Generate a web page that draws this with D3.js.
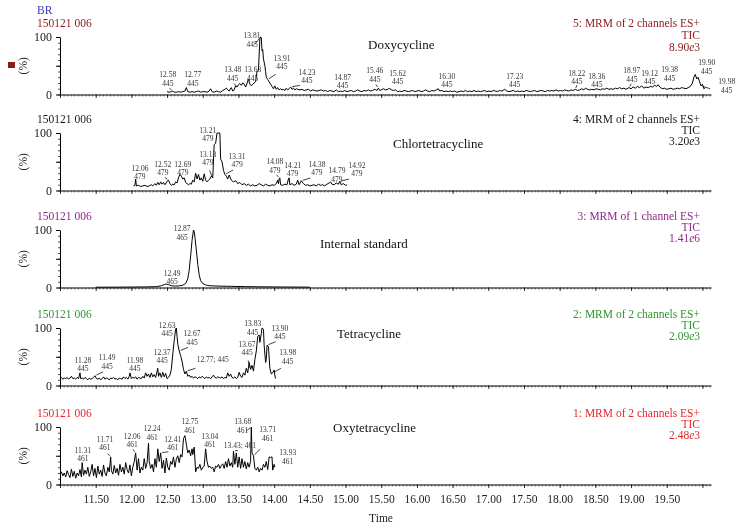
<!DOCTYPE html>
<html><head><meta charset="utf-8">
<script src="https://cdn.jsdelivr.net/npm/d3@7"></script>
<style>
body{margin:0;background:#fff}
svg{display:block;will-change:transform;opacity:0.999}
text{font-family:"Liberation Serif","DejaVu Serif",serif}
</style>
</head><body>
<svg id="c" width="745" height="530"></svg>
<script>
// ---------- DATA ----------
const timeDomain = [11.0, 20.12];
const tickLabels = [11.5,12,12.5,13,13.5,14,14.5,15,15.5,16,16.5,17,17.5,18,18.5,19,19.5];
const compounds = ["Doxycycline","Chlortetracycline","Internal standard","Tetracycline","Oxytetracycline"];
const sampleIds = ["150121 006","150121 006","150121 006","150121 006","150121 006"];
const channelTitles = ["5: MRM of 2 channels ES+","4: MRM of 2 channels ES+","3: MRM of 1 channel ES+","2: MRM of 2 channels ES+","1: MRM of 2 channels ES+"];
const ticMantissa = ["8.90","3.20","1.41","2.09","2.48"];
const ticExponent = ["3","3","6","3","3"];

// [time (min), intensity (%)]
const doxycycline = [[12.50,5],[12.53,4],[12.56,5],[12.58,6],[12.60,4],[12.63,4],[12.66,5],[12.69,4],[12.72,5],[12.75,6],[12.77,12],[12.79,5],[12.82,4],[12.85,5],[12.88,4],[12.91,5],[12.94,6],[12.97,4],[13.00,5],[13.03,5],[13.06,4],[13.09,6],[13.11,10],[13.13,5],[13.16,4],[13.19,6],[13.22,5],[13.25,4],[13.28,7],[13.31,9],[13.33,11],[13.35,8],[13.37,6],[13.40,12],[13.42,6],[13.44,8],[13.46,15],[13.48,13],[13.50,17],[13.52,19],[13.54,16],[13.56,20],[13.58,18],[13.60,13],[13.62,19],[13.64,27],[13.66,18],[13.68,15],[13.70,18],[13.72,20],[13.74,22],[13.76,40],[13.78,42],[13.80,96],[13.81,100],[13.82,99],[13.83,76],[13.84,78],[13.85,62],[13.87,50],[13.88,40],[13.89,30],[13.91,26],[13.93,22],[13.95,18],[13.97,14],[13.99,10],[14.01,15],[14.03,9],[14.05,12],[14.07,8],[14.09,10],[14.11,8],[14.13,9],[14.15,7],[14.17,11],[14.19,8],[14.21,10],[14.23,13],[14.25,9],[14.27,11],[14.29,8],[14.31,10],[14.33,9],[14.36,8],[14.39,9],[14.42,7],[14.45,8],[14.48,9],[14.51,6],[14.54,8],[14.57,7],[14.60,6],[14.63,7],[14.66,8],[14.69,6],[14.72,7],[14.75,5],[14.78,7],[14.81,6],[14.84,5],[14.87,8],[14.90,5],[14.93,6],[14.96,5],[14.99,7],[15.02,5],[15.05,6],[15.08,7],[15.11,5],[15.14,6],[15.17,8],[15.20,6],[15.23,5],[15.26,7],[15.29,6],[15.32,8],[15.35,6],[15.38,7],[15.41,9],[15.44,7],[15.46,11],[15.48,7],[15.50,8],[15.53,10],[15.56,8],[15.59,9],[15.62,11],[15.64,8],[15.67,7],[15.70,8],[15.73,5],[15.76,6],[15.79,5],[15.82,7],[15.85,6],[15.88,5],[15.91,6],[15.94,7],[15.97,5],[16.00,6],[16.03,7],[16.06,5],[16.09,6],[16.12,8],[16.15,6],[16.18,5],[16.21,7],[16.24,6],[16.27,8],[16.30,10],[16.32,6],[16.35,7],[16.38,5],[16.41,6],[16.44,5],[16.47,6],[16.50,5],[16.53,6],[16.56,4],[16.59,5],[16.62,6],[16.65,5],[16.68,7],[16.71,5],[16.74,6],[16.77,5],[16.80,7],[16.83,5],[16.86,6],[16.89,5],[16.92,6],[16.95,7],[16.98,5],[17.01,6],[17.04,5],[17.07,7],[17.10,6],[17.13,5],[17.16,7],[17.19,6],[17.23,9],[17.26,6],[17.29,5],[17.32,6],[17.35,7],[17.38,5],[17.41,6],[17.44,5],[17.47,6],[17.50,5],[17.53,7],[17.56,6],[17.59,5],[17.62,6],[17.65,7],[17.68,5],[17.71,6],[17.74,7],[17.77,6],[17.80,5],[17.83,7],[17.86,6],[17.89,7],[17.92,6],[17.95,8],[17.98,6],[18.01,7],[18.04,6],[18.07,8],[18.10,7],[18.13,6],[18.16,8],[18.19,7],[18.22,9],[18.25,7],[18.28,8],[18.31,10],[18.34,8],[18.36,11],[18.39,9],[18.42,8],[18.45,9],[18.48,8],[18.51,10],[18.54,9],[18.57,8],[18.60,10],[18.63,9],[18.66,11],[18.69,9],[18.72,10],[18.75,9],[18.78,11],[18.81,10],[18.84,12],[18.87,10],[18.90,11],[18.93,9],[18.97,12],[19.00,10],[19.03,13],[19.06,11],[19.09,14],[19.12,12],[19.15,15],[19.18,11],[19.21,13],[19.24,12],[19.27,14],[19.30,13],[19.33,16],[19.36,14],[19.38,17],[19.41,12],[19.44,10],[19.47,11],[19.50,9],[19.53,10],[19.56,11],[19.59,9],[19.62,10],[19.65,11],[19.68,10],[19.71,12],[19.74,11],[19.77,10],[19.80,12],[19.83,14],[19.86,20],[19.88,30],[19.90,35],[19.92,27],[19.94,30],[19.96,22],[19.98,15],[20.00,18],[20.02,10],[20.04,12]];

const chlortetracycline = [[12.03,8],[12.05,9],[12.06,20],[12.07,8],[12.10,9],[12.13,7],[12.16,8],[12.19,9],[12.22,7],[12.25,8],[12.28,10],[12.30,8],[12.33,12],[12.35,9],[12.37,14],[12.39,10],[12.41,15],[12.43,11],[12.45,14],[12.47,10],[12.50,16],[12.52,18],[12.54,12],[12.56,9],[12.58,11],[12.60,10],[12.62,15],[12.64,13],[12.66,22],[12.68,28],[12.70,25],[12.72,20],[12.74,22],[12.76,14],[12.78,12],[12.80,10],[12.82,12],[12.84,11],[12.86,18],[12.88,15],[12.90,30],[12.92,20],[12.94,28],[12.96,18],[12.98,22],[13.00,16],[13.02,29],[13.04,18],[13.06,15],[13.08,18],[13.10,20],[13.12,25],[13.14,22],[13.16,80],[13.18,82],[13.20,100],[13.22,100],[13.24,100],[13.25,55],[13.27,50],[13.29,35],[13.31,28],[13.33,25],[13.35,20],[13.37,27],[13.40,18],[13.43,15],[13.46,17],[13.49,12],[13.52,14],[13.55,10],[13.58,12],[13.61,9],[13.64,11],[13.67,8],[13.70,10],[13.73,8],[13.76,9],[13.79,12],[13.82,10],[13.85,8],[13.88,11],[13.91,9],[13.94,8],[13.97,10],[14.00,9],[14.03,12],[14.05,18],[14.06,12],[14.07,20],[14.08,22],[14.09,10],[14.12,9],[14.15,11],[14.18,10],[14.20,20],[14.21,22],[14.22,10],[14.25,12],[14.28,9],[14.31,11],[14.33,18],[14.35,10],[14.38,17],[14.41,12],[14.44,9],[14.47,10],[14.50,8],[14.53,9],[14.56,10],[14.59,8],[14.62,11],[14.65,9],[14.68,10],[14.71,8],[14.74,11],[14.77,13],[14.79,15],[14.81,11],[14.84,10],[14.87,13],[14.90,11],[14.92,16],[14.94,10],[14.97,12],[15.00,9],[15.02,10]];

const internalStandard = [[11.50,0.5],[11.80,0.6],[12.00,0.8],[12.20,1],[12.35,1.5],[12.42,3],[12.46,5],[12.49,6],[12.52,5],[12.56,3],[12.62,2.5],[12.68,3],[12.72,4],[12.76,7],[12.79,15],[12.81,30],[12.83,55],[12.85,82],[12.87,100],[12.88,97],[12.89,88],[12.91,65],[12.93,40],[12.95,22],[12.97,12],[13.00,7],[13.05,4],[13.10,3],[13.20,2.5],[13.40,2],[13.60,1.5],[13.80,1.2],[14.00,1],[14.20,0.8],[14.50,0.6]];

const tetracycline = [[11.00,12],[11.02,14],[11.04,11],[11.06,13],[11.08,12],[11.10,14],[11.12,11],[11.14,13],[11.16,16],[11.18,12],[11.20,13],[11.22,11],[11.24,14],[11.26,12],[11.28,22],[11.29,12],[11.31,13],[11.33,11],[11.35,14],[11.37,12],[11.39,10],[11.41,13],[11.43,11],[11.45,12],[11.47,14],[11.49,17],[11.51,12],[11.53,11],[11.55,13],[11.57,10],[11.59,12],[11.61,15],[11.63,11],[11.65,13],[11.67,12],[11.69,10],[11.71,13],[11.73,12],[11.75,14],[11.77,11],[11.79,12],[11.81,10],[11.83,13],[11.85,12],[11.87,11],[11.89,15],[11.91,12],[11.93,14],[11.95,11],[11.97,16],[11.98,22],[12.00,12],[12.02,14],[12.04,13],[12.06,15],[12.08,11],[12.10,14],[12.12,13],[12.14,12],[12.16,16],[12.18,13],[12.20,22],[12.22,16],[12.24,20],[12.26,14],[12.28,22],[12.30,15],[12.32,19],[12.34,14],[12.37,30],[12.38,16],[12.40,22],[12.42,14],[12.44,23],[12.46,15],[12.48,21],[12.50,12],[12.52,14],[12.54,18],[12.56,28],[12.58,55],[12.60,78],[12.62,98],[12.63,100],[12.64,85],[12.65,72],[12.67,60],[12.69,52],[12.71,42],[12.73,28],[12.75,20],[12.77,25],[12.79,16],[12.81,18],[12.83,14],[12.85,16],[12.87,13],[12.89,15],[12.91,14],[12.93,12],[12.95,15],[12.97,13],[12.99,16],[13.01,14],[13.03,12],[13.05,15],[13.07,13],[13.09,14],[13.11,12],[13.13,15],[13.15,18],[13.17,14],[13.19,13],[13.21,15],[13.23,14],[13.25,13],[13.27,15],[13.29,12],[13.31,14],[13.33,13],[13.35,22],[13.37,16],[13.39,20],[13.41,14],[13.43,13],[13.45,15],[13.47,12],[13.49,14],[13.51,23],[13.53,16],[13.55,14],[13.57,22],[13.59,18],[13.61,30],[13.63,22],[13.65,40],[13.67,28],[13.69,35],[13.71,25],[13.73,45],[13.75,60],[13.77,85],[13.79,88],[13.80,75],[13.82,90],[13.83,100],[13.85,98],[13.86,70],[13.88,40],[13.89,45],[13.90,70],[13.92,68],[13.94,30],[13.96,20],[13.98,22],[14.00,27],[14.01,18],[14.02,12]];

const oxytetracycline = [[11.00,18],[11.02,22],[11.04,15],[11.06,20],[11.08,13],[11.10,24],[11.12,17],[11.14,12],[11.16,27],[11.18,14],[11.20,23],[11.22,11],[11.24,20],[11.26,15],[11.28,26],[11.30,13],[11.31,38],[11.33,16],[11.35,25],[11.37,18],[11.39,30],[11.41,14],[11.43,22],[11.45,35],[11.47,15],[11.49,28],[11.51,12],[11.53,32],[11.55,18],[11.57,25],[11.59,14],[11.61,34],[11.63,20],[11.65,15],[11.67,30],[11.69,22],[11.71,48],[11.72,24],[11.74,18],[11.76,33],[11.78,20],[11.80,28],[11.82,16],[11.84,35],[11.86,22],[11.88,30],[11.90,18],[11.92,38],[11.94,26],[11.96,20],[11.98,34],[12.00,15],[12.02,30],[12.04,40],[12.06,55],[12.08,25],[12.10,45],[12.12,20],[12.14,30],[12.16,25],[12.18,45],[12.20,28],[12.22,38],[12.24,72],[12.25,40],[12.27,28],[12.29,35],[12.31,22],[12.33,45],[12.35,30],[12.37,62],[12.39,40],[12.41,55],[12.43,28],[12.45,42],[12.47,20],[12.49,46],[12.51,30],[12.53,25],[12.55,40],[12.57,35],[12.59,48],[12.61,30],[12.63,44],[12.65,50],[12.67,38],[12.69,52],[12.71,48],[12.73,80],[12.75,85],[12.77,70],[12.79,55],[12.81,60],[12.83,50],[12.85,62],[12.86,52],[12.88,65],[12.90,22],[12.92,30],[12.94,28],[12.96,35],[12.98,25],[13.00,30],[13.02,32],[13.04,62],[13.06,40],[13.08,30],[13.10,32],[13.12,28],[13.14,30],[13.16,22],[13.18,32],[13.20,30],[13.22,35],[13.24,28],[13.26,33],[13.28,36],[13.30,28],[13.32,40],[13.34,30],[13.36,45],[13.38,32],[13.40,38],[13.42,30],[13.43,58],[13.45,35],[13.47,55],[13.49,30],[13.51,48],[13.53,28],[13.55,45],[13.57,30],[13.59,40],[13.61,27],[13.63,38],[13.65,30],[13.67,40],[13.68,100],[13.69,55],[13.71,50],[13.73,28],[13.75,25],[13.77,30],[13.79,22],[13.81,28],[13.83,25],[13.85,35],[13.87,30],[13.89,40],[13.91,26],[13.93,48],[13.95,47],[13.97,48],[13.98,25],[14.00,35],[14.01,30]];

// peak annotations: [line 1, line 2, anchor time, anchor %, leader?]
const doxyLabels = [["12.58","445",12.51,34,1],["12.77","445",12.86,34,0],["13.48","445",13.42,43,1],["13.63","445",13.70,43,0],["13.81","445",13.69,102,1],["13.91","445",14.11,63,1],["14.23","445",14.46,39,1],["14.87","445",14.96,30,0],["15.46","445",15.41,41,1],["15.62","445",15.73,37,0],["16.30","445",16.42,32,0],["17.23","445",17.37,32,0],["18.22","445",18.24,37,1],["18.36","445",18.52,32,0],["18.97","445",19.01,41,1],["19.12","445",19.26,37,0],["19.38","445",19.54,43,0],["19.90","445",20.06,55,0],["19.98","445",20.34,22,1]];
const chlorLabels = [["12.06","479",12.12,39,0],["12.52","479",12.44,46,1],["12.69","479",12.72,46,0],["13.13","479",13.07,63,1],["13.21","479",13.07,105,0],["13.31","479",13.48,60,1],["14.08","479",14.01,50,1],["14.21","479",14.26,44,0],["14.38","479",14.60,46,1],["14.79","479",14.88,34,0],["14.92","479",15.16,44,1]];
const isLabels = [["12.87","465",12.71,102,0],["12.49","465",12.57,25,0]];
const tetraLabels = [["11.28","445",11.32,44,0],["11.49","445",11.66,48,1],["11.98","445",12.05,44,0],["12.37","445",12.43,58,0],["12.63","445",12.50,105,0],["12.67","445",12.85,90,1],["12.77; 445","",13.14,46,1],["13.67","445",13.62,72,1],["13.83","445",13.70,107,0],["13.90","445",14.08,100,1],["13.98","445",14.19,57,1]];
const oxyLabels = [["11.31","461",11.32,60,0],["11.71","461",11.63,79,1],["12.06","461",12.01,84,1],["12.24","461",12.29,97,0],["12.41","461",12.58,79,1],["12.75","461",12.82,109,0],["13.04","461",13.10,84,0],["13.43; 461","",13.52,67,1],["13.68","461",13.56,109,1],["13.71","461",13.91,95,1],["13.93","461",14.19,55,0]];

// ---------- LAYOUT / STYLE ----------
const series = [doxycycline, chlortetracycline, internalStandard, tetracycline, oxytetracycline];
const labelSets = [doxyLabels, chlorLabels, isLabels, tetraLabels, oxyLabels];
const colors = ["#8b1a1a","#1a1a1a","#8e2a8e","#2e962e","#e8262b"];
const panelTops = [37,133,230,328,427];
const plotH = 57.5;
const nameX = [368,393,320,337,333];
const nameDy = [12,15,18,10,5];
const headerGap = [12,11,11,11,11];

const svg = d3.select("#c");
const x = d3.scaleLinear().domain(timeDomain).range([60,711]);
const minorTicks = d3.range(0,183).map(i => +(11 + i*0.05).toFixed(2));
const majorTicks = d3.range(0,19).map(i => +(11 + i*0.5).toFixed(2));

svg.append("rect").attr("width",745).attr("height",530).attr("fill","#fff");
svg.append("text").attr("x",37).attr("y",14).attr("font-size",11.5).attr("fill","#3838c4").text("BR");
svg.append("rect").attr("x",8).attr("y",62).attr("width",7).attr("height",6).attr("fill","#8b1a1a");

series.forEach((data, i) => {
  const top = panelTops[i], bottom = top + plotH;
  const y = d3.scaleLinear().domain([0,100]).range([bottom, top]);
  const g = svg.append("g");

  // x axis (minor + major ticks)
  const ax = g.append("g").attr("transform",`translate(0,${bottom})`)
    .call(d3.axisBottom(x).tickValues(minorTicks).tickSize(2).tickSizeOuter(0).tickFormat(""));
  ax.select(".domain").attr("stroke","#000");
  ax.selectAll(".tick line").attr("stroke","#333").attr("stroke-width",0.7);
  const axM = g.append("g").attr("transform",`translate(0,${bottom})`)
    .call(d3.axisBottom(x).tickValues(majorTicks).tickSize(3.5).tickSizeOuter(0).tickFormat(""));
  axM.select(".domain").remove();
  axM.selectAll(".tick line").attr("stroke","#000").attr("stroke-width",0.8);

  if (i === series.length - 1) {
    const axL = g.append("g").attr("transform",`translate(0,${bottom})`)
      .call(d3.axisBottom(x).tickValues(tickLabels).tickSize(0).tickPadding(10).tickFormat(d3.format(".2f")));
    axL.select(".domain").remove();
    axL.selectAll("text").attr("font-family",'"Liberation Serif","DejaVu Serif",serif').attr("font-size",11.5).attr("fill","#222");
    svg.append("text").attr("x",381).attr("y",522).attr("text-anchor","middle").attr("font-size",11.5).attr("fill","#222").text("Time");
  }

  // y axis
  const ay = g.append("g").attr("transform","translate(60,0)")
    .call(d3.axisLeft(y).tickValues(d3.range(0,101,10)).tickSize(2).tickSizeOuter(0).tickFormat(""));
  ay.select(".domain").attr("stroke","#000");
  ay.selectAll(".tick line").attr("stroke","#000").attr("stroke-width",0.7);
  const ayL = g.append("g").attr("transform","translate(60,0)")
    .call(d3.axisLeft(y).tickValues([0,50,100]).tickSize(4).tickSizeOuter(0).tickPadding(4).tickFormat(d => d===50 ? "" : d));
  ayL.select(".domain").remove();
  ayL.selectAll("text").attr("font-family",'"Liberation Serif","DejaVu Serif",serif').attr("font-size",12).attr("fill","#222");

  g.append("text").attr("transform",`translate(27,${top+plotH/2}) rotate(-90)`)
    .attr("text-anchor","middle").attr("font-size",11.5).attr("fill","#222").text("(%)");

  // sample id
  g.append("text").attr("x",37).attr("y",top-10).attr("font-size",11.5).attr("fill",colors[i]).text(sampleIds[i]);

  // header right
  const hx = 700, gap = headerGap[i], fs = 11.5;
  g.append("text").attr("x",hx).attr("y",top-10).attr("text-anchor","end").attr("font-size",fs).attr("fill",colors[i]).text(channelTitles[i]);
  g.append("text").attr("x",hx).attr("y",top-10+gap).attr("text-anchor","end").attr("font-size",fs).attr("fill",colors[i]).text("TIC");
  const t3 = g.append("text").attr("x",hx).attr("y",top-10+2*gap).attr("text-anchor","end").attr("font-size",fs).attr("fill",colors[i]);
  t3.append("tspan").text(ticMantissa[i]);
  t3.append("tspan").attr("font-style","italic").text("e");
  t3.append("tspan").text(ticExponent[i]);

  // compound name
  g.append("text").attr("x",nameX[i]).attr("y",top+nameDy[i]).attr("font-size",13).attr("fill","#111").text(compounds[i]);

  // trace
  g.append("path").datum(data)
    .attr("fill","none").attr("stroke","#000").attr("stroke-width",1).attr("stroke-linejoin","round")
    .attr("d", d3.line().x(d => x(d[0])).y(d => y(d[1])));

  // peak labels
  labelSets[i].forEach(l => {
    const lx = x(l[2]), ly = y(l[3]);
    g.append("text").attr("x",lx).attr("y",ly+2.5).attr("text-anchor","middle").attr("font-size",7.5).attr("fill","#333").text(l[0]);
    if (l[1]) g.append("text").attr("x",lx).attr("y",ly+11).attr("text-anchor","middle").attr("font-size",7.5).attr("fill","#333").text(l[1]);
    if (l[4]) {
      const tp = parseFloat(l[0]);
      const pk = data.reduce((a,b) => Math.abs(b[0]-tp) < Math.abs(a[0]-tp) ? b : a);
      const px = x(pk[0]), py = y(pk[1]);
      const bx = lx, by = ly + (l[1] ? 12 : 4);
      const dx = bx - px, dy = by - py, dist = Math.hypot(dx,dy) || 1;
      const ux = dx/dist, uy = dy/dist;
      const len = Math.max(3, Math.min(8, dist - 6));
      g.append("line").attr("x1",px+ux*1.5).attr("y1",py+uy*1.5).attr("x2",px+ux*(1.5+len)).attr("y2",py+uy*(1.5+len))
        .attr("stroke","#111").attr("stroke-width",0.8);
    }
  });
});
</script>
</body></html>
